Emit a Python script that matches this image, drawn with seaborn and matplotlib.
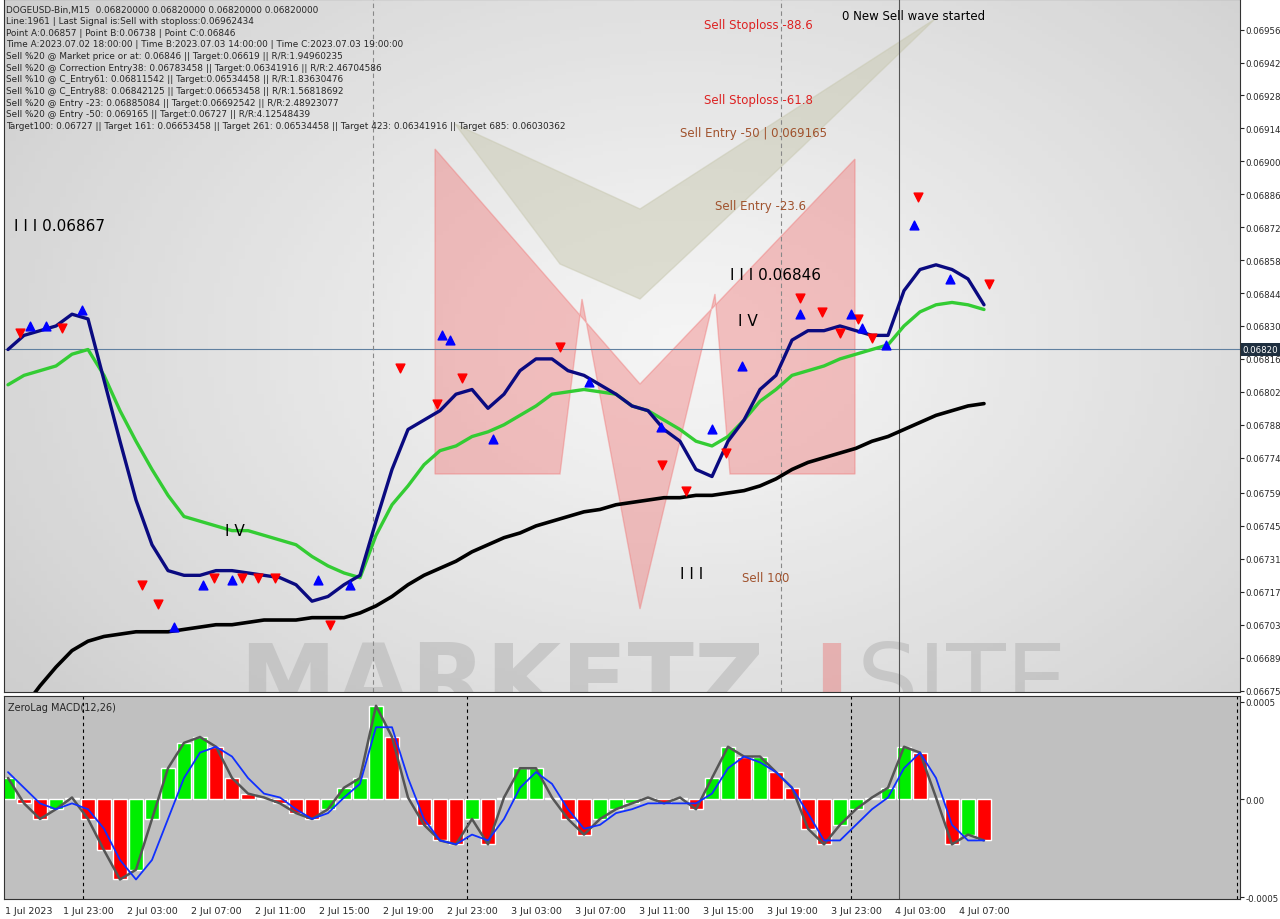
import numpy as np
import pandas as pd
import matplotlib
matplotlib.use('Agg')
import matplotlib.pyplot as plt
import seaborn as sns
from matplotlib.patches import Polygon

sns.set_style('white')
plt.rcParams['font.family'] = ['DejaVu Sans']

# hourly samples, hour 0 = 1 Jul 18:00 ; prices in 1e-5 units
blue_ma = [6820, 6826, 6828, 6830, 6835, 6833, 6807, 6781, 6756, 6737, 6726, 6724, 6724, 6726, 6726, 6725,
           6724, 6723, 6720, 6713, 6715, 6720, 6724, 6747, 6769, 6786, 6790, 6794, 6801, 6803, 6795, 6801,
           6811, 6816, 6816, 6811, 6809, 6805, 6801, 6796, 6794, 6786, 6781, 6769, 6766, 6781, 6790, 6803,
           6809, 6824, 6828, 6828, 6830, 6828, 6826, 6826, 6845, 6854, 6856, 6854, 6850, 6839]
green_ma = [6805, 6809, 6811, 6813, 6818, 6820, 6809, 6794, 6781, 6769, 6758, 6749, 6747, 6745, 6743, 6743,
            6741, 6739, 6737, 6732, 6728, 6725, 6723, 6741, 6754, 6762, 6771, 6777, 6779, 6783, 6785, 6788,
            6792, 6796, 6801, 6802, 6803, 6802, 6801, 6796, 6794, 6790, 6786, 6781, 6779, 6783, 6790, 6798,
            6803, 6809, 6811, 6813, 6816, 6818, 6820, 6822, 6830, 6836, 6839, 6840, 6839, 6837]
black_ma = [6662, 6668, 6677, 6685, 6692, 6696, 6698, 6699, 6700, 6700, 6700, 6701, 6702, 6703, 6703, 6704,
            6705, 6705, 6705, 6706, 6706, 6706, 6708, 6711, 6715, 6720, 6724, 6727, 6730, 6734, 6737, 6740,
            6742, 6745, 6747, 6749, 6751, 6752, 6754, 6755, 6756, 6757, 6757, 6758, 6758, 6759, 6760, 6762,
            6765, 6769, 6772, 6774, 6776, 6778, 6781, 6783, 6786, 6789, 6792, 6794, 6796, 6797]

sell_hours = [0.75, 3.4, 8.4, 9.4, 12.9, 14.6, 15.6, 16.7, 20.1, 24.5, 26.8, 28.4, 34.5, 40.9, 42.4, 44.9,
              49.5, 50.9, 52.0, 53.1, 54.0, 56.9, 61.3]
sell_prices = [6824, 6826, 6717, 6709, 6720, 6720, 6720, 6720, 6700, 6809, 6794, 6805, 6818, 6768, 6757, 6773,
               6839, 6833, 6824, 6830, 6822, 6882, 6845]
buy_hours = [1.4, 2.4, 4.6, 10.4, 12.2, 14.0, 19.4, 21.4, 27.1, 27.6, 30.3, 36.3, 40.8, 44.0, 45.9, 49.5,
             52.7, 53.4, 54.9, 56.6, 58.9]
buy_prices = [6833, 6833, 6840, 6705, 6723, 6725, 6725, 6723, 6829, 6827, 6785, 6809, 6790, 6789, 6816, 6838,
              6838, 6832, 6825, 6876, 6853]

# MACD in 1e-5 units
macd = [11, -2, -10, -5, 1, -10, -26, -41, -36, -10, 16, 29, 32, 27, 11, 3, 1, -2, -7, -10, -5, 6, 11, 48,
        32, 1, -13, -21, -23, -10, -23, 1, 16, 16, 1, -10, -18, -10, -5, -2, 1, -2, 1, -5, 11, 27, 22, 22,
        14, 6, -15, -23, -13, -5, 1, 6, 27, 24, 1, -23, -18, -21]
signal = [14, 6, -2, -5, -2, -5, -15, -31, -41, -31, -10, 11, 24, 27, 22, 11, 3, 1, -5, -10, -7, 1, 8, 37,
          37, 11, -10, -21, -23, -18, -21, -10, 6, 14, 8, -5, -15, -13, -7, -5, -2, -2, -2, -2, 3, 16, 22, 19,
          14, 6, -7, -21, -21, -13, -5, 1, 16, 24, 11, -13, -21, -21]

tick_labels = ['1 Jul 2023', '1 Jul 23:00', '2 Jul 03:00', '2 Jul 07:00', '2 Jul 11:00', '2 Jul 15:00',
               '2 Jul 19:00', '2 Jul 23:00', '3 Jul 03:00', '3 Jul 07:00', '3 Jul 11:00', '3 Jul 15:00',
               '3 Jul 19:00', '3 Jul 23:00', '4 Jul 03:00', '4 Jul 07:00']
tick_hours = [-0.2, 5, 9, 13, 17, 21, 25, 29, 33, 37, 41, 45, 49, 53, 57, 61]
price_ticks = [0.06956, 0.06942, 0.06928, 0.06914, 0.06900, 0.06886, 0.06872, 0.06858, 0.06844, 0.06830,
               0.06816, 0.06802, 0.06788, 0.06774, 0.06759, 0.06745, 0.06731, 0.06717, 0.06703, 0.06689, 0.06675]

info_lines = [
    'DOGEUSD-Bin,M15  0.06820000 0.06820000 0.06820000 0.06820000',
    'Line:1961 | Last Signal is:Sell with stoploss:0.06962434',
    'Point A:0.06857 | Point B:0.06738 | Point C:0.06846',
    'Time A:2023.07.02 18:00:00 | Time B:2023.07.03 14:00:00 | Time C:2023.07.03 19:00:00',
    'Sell %20 @ Market price or at: 0.06846 || Target:0.06619 || R/R:1.94960235',
    'Sell %20 @ Correction Entry38: 0.06783458 || Target:0.06341916 || R/R:2.46704586',
    'Sell %10 @ C_Entry61: 0.06811542 || Target:0.06534458 || R/R:1.83630476',
    'Sell %10 @ C_Entry88: 0.06842125 || Target:0.06653458 || R/R:1.56818692',
    'Sell %20 @ Entry -23: 0.06885084 || Target:0.06692542 || R/R:2.48923077',
    'Sell %20 @ Entry -50: 0.069165 || Target:0.06727 || R/R:4.12548439',
    'Target100: 0.06727 || Target 161: 0.06653458 || Target 261: 0.06534458 || Target 423: 0.06341916 || Target 685: 0.06030362',
]

hours = np.arange(len(blue_ma))
df = pd.DataFrame({'h': hours, 'blue': np.array(blue_ma) / 1e5, 'green': np.array(green_ma) / 1e5,
                   'black': np.array(black_ma) / 1e5, 'macd': np.array(macd) / 1e5,
                   'signal': np.array(signal) / 1e5})

W, H = 1280, 920
fig = plt.figure(figsize=(12.8, 9.2), dpi=100)
fig.patch.set_facecolor('white')
ax = fig.add_axes([4 / W, 1 - 693 / H, 1236 / W, 693 / H])
ax2 = fig.add_axes([4 / W, 1 - 900 / H, 1236 / W, 203 / H])
xlim = (-0.25, 77)
ylim = (0.066744, 0.06969)

# background gradient: light grey with a whiter centre
yy, xx = np.mgrid[0:1:200j, 0:1:200j]
grad = np.sqrt(((xx - 0.55) * 1.1) ** 2 + ((yy - 0.5) * 0.9) ** 2)
ax.imshow(grad, extent=[*xlim, *ylim], aspect='auto', cmap='Greys', vmin=-0.3, vmax=3.2,
          origin='lower', zorder=0)

# watermark
def fpx(pts):
    return [(x / W, 1 - y / H) for x, y in pts]
ax.add_patch(Polygon(fpx([(455, 125), (640, 210), (935, 20), (800, 150), (640, 300), (560, 265)]),
                     closed=True, transform=fig.transFigure, color='#c8c8b0', alpha=0.5, zorder=1))
ax.add_patch(Polygon(fpx([(435, 150), (640, 385), (855, 160), (855, 475), (730, 475), (715, 295),
                          (640, 610), (582, 300), (560, 475), (435, 475)]),
                     closed=True, transform=fig.transFigure, color='#f07070', alpha=0.4, zorder=1))
ax.text(0.19, 0.01, 'MARKETZ', transform=ax.transAxes, fontsize=70, color='#b8b8b8', alpha=0.6,
        fontweight='bold', va='center', zorder=1, clip_on=True)
ax.text(0.655, 0.01, 'I', transform=ax.transAxes, fontsize=70, color='#e89090', alpha=0.6,
        fontweight='bold', va='center', zorder=1, clip_on=True)
ax.text(0.69, 0.01, 'SITE', transform=ax.transAxes, fontsize=70, color='#b8b8b8', alpha=0.6,
        va='center', zorder=1, clip_on=True)

sns.lineplot(data=df, x='h', y='black', ax=ax, color='black', linewidth=2.6, zorder=3)
sns.lineplot(data=df, x='h', y='green', ax=ax, color='#33cc33', linewidth=2.4, zorder=3)
sns.lineplot(data=df, x='h', y='blue', ax=ax, color='#0a0a80', linewidth=2.4, zorder=4)

ax.scatter(sell_hours, np.array(sell_prices) / 1e5 + 0.00003, marker='v', s=40, color='red', zorder=5)
ax.scatter(buy_hours, np.array(buy_prices) / 1e5 - 0.00003, marker='^', s=40, color='blue', zorder=5)

ax.axhline(0.0682, color='#6080a0', linewidth=0.8, zorder=2)
for h in [22.8, 48.3]:
    ax.axvline(h, color='#888888', linewidth=0.8, linestyle=(0, (4, 3)), zorder=2)

for i, line in enumerate(info_lines):
    ax.text(0.002, 0.992 - i * 0.0168, line, transform=ax.transAxes, fontsize=6.4, va='top', zorder=6)

def ptxt(px, py, s, color='black', size=11):
    ax.text((px - 8) / 16, 0.06969 - py / 234500, s, color=color, fontsize=size, va='center', zorder=6)
ptxt(14, 226, 'I I I 0.06867', size=11)
ptxt(730, 275, 'I I I 0.06846', size=11)
ptxt(738, 320, 'I V', size=11)
ptxt(225, 530, 'I V', size=11)
ptxt(680, 573, 'I I I', size=11)
ptxt(742, 577, 'Sell 100', color='#a0522d', size=8.5)
ptxt(704, 25, 'Sell Stoploss -88.6', color='#dd2222', size=8.5)
ptxt(704, 100, 'Sell Stoploss -61.8', color='#dd2222', size=8.5)
ptxt(680, 133, 'Sell Entry -50 | 0.069165', color='#a0522d', size=8.5)
ptxt(715, 206, 'Sell Entry -23.6', color='#a0522d', size=8.5)
ptxt(842, 16, '0 New Sell wave started', color='black', size=8.5)

ax.set_xlim(*xlim)
ax.set_ylim(*ylim)
ax.yaxis.tick_right()
ax.set_yticks(price_ticks)
ax.set_yticklabels([f'{p:.5f}' for p in price_ticks], fontsize=6.2)
ax.tick_params(axis='y', length=3, pad=1)
ax.set_xticks([])
ax.set_xlabel('')
ax.set_ylabel('')
ax.text(1.002, (0.0682 - ylim[0]) / (ylim[1] - ylim[0]), '0.06820', transform=ax.transAxes, fontsize=6.2,
        color='white', va='center', bbox=dict(facecolor='#1f2f3f', edgecolor='none', pad=1.2))

# MACD panel
ax2.set_facecolor('#c0c0c0')
d = np.diff(np.r_[df['macd'].iloc[0], df['macd']])
cols = ['#00ee00' if v >= 0 else '#ff0000' for v in d]
ax2.bar(df['h'], df['macd'], width=0.92, color=cols, zorder=2)
sns.lineplot(data=df, x='h', y='macd', ax=ax2, color='#555555', linewidth=1.8, zorder=3)
sns.lineplot(data=df, x='h', y='signal', ax=ax2, color='#1030ff', linewidth=1.3, zorder=4)
for h in [4.7, 28.7, 52.7, 76.8]:
    ax2.axvline(h, color='black', linewidth=0.8, linestyle=(0, (3, 3)), zorder=1)
ax.axvline(55.7, color='#555555', linewidth=0.8)
ax2.axvline(55.7, color='#555555', linewidth=0.8)
ax2.text(0.003, 0.97, 'ZeroLag MACD(12,26)', transform=ax2.transAxes, fontsize=7, va='top')
ax2.set_xlim(*xlim)
ax2.set_ylim(-0.00051, 0.00053)
ax2.yaxis.tick_right()
ax2.set_yticks([0.0005, 0.0, -0.0005])
ax2.set_yticklabels(['0.0005', '0.00', '-0.0005'], fontsize=6.2)
ax2.tick_params(axis='y', length=3, pad=1)
ax2.set_xticks(tick_hours)
ax2.set_xticklabels(tick_labels, fontsize=6.8)
ax2.get_xticklabels()[0].set_ha('left')
ax2.tick_params(axis='x', length=3, pad=2)
ax2.set_xlabel('')
ax2.set_ylabel('')

for a in (ax, ax2):
    for s in a.spines.values():
        s.set_color('#333333')
        s.set_linewidth(0.8)

fig.savefig('out.png', dpi=100)
